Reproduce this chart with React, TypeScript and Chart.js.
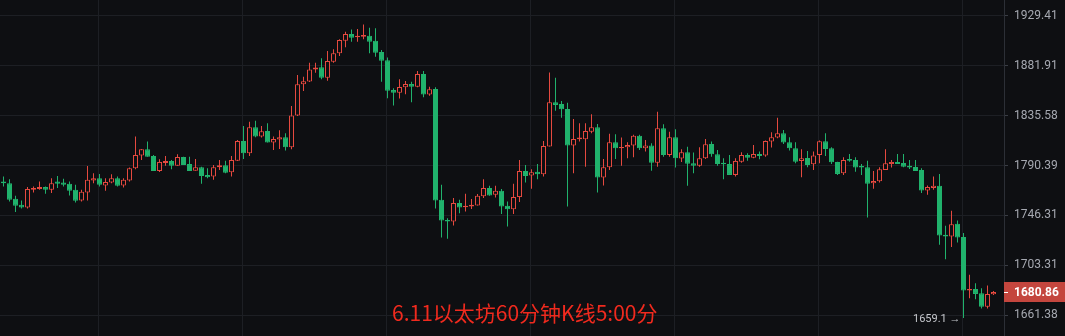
import React, { useEffect, useRef } from "react";
import { Chart, registerables } from "chart.js";

Chart.register(...registerables);

const openPrices = [
  1776.1, 1774.7, 1760.9, 1755.6, 1753.2, 1768.8, 1769.4, 1771.2, 1768.8, 1776.1,
  1775.2, 1774.1, 1768.8, 1759.4, 1766.4, 1777.0, 1779.1, 1772.6, 1775.2, 1779.1,
  1772.6, 1777.0, 1787.9, 1799.3, 1805.0, 1799.0, 1785.5, 1792.7, 1794.5, 1790.2,
  1798.1, 1791.7, 1785.8, 1788.8, 1782.0, 1780.5, 1788.8, 1790.6, 1784.4, 1794.7,
  1812.5, 1801.4, 1824.9, 1816.4, 1821.6, 1811.0, 1813.7, 1815.9, 1806.8, 1835.7,
  1864.5, 1867.1, 1878.4, 1880.5, 1870.6, 1885.5, 1893.5, 1905.5, 1911.8, 1908.7,
  1909.3, 1910.2, 1905.5, 1894.7, 1887.1, 1859.2, 1856.7, 1861.7, 1864.8, 1862.3,
  1874.0, 1854.9, 1860.0, 1760.0, 1742.4, 1741.0, 1757.1, 1753.5, 1754.1, 1755.0,
  1763.2, 1770.3, 1764.4, 1767.9, 1754.7, 1751.8, 1762.4, 1785.5, 1781.4, 1784.9,
  1782.6, 1807.4, 1847.8, 1846.2, 1841.6, 1808.3, 1814.1, 1814.1, 1820.9, 1824.9,
  1779.6, 1788.8, 1811.4, 1805.9, 1806.8, 1808.3, 1817.3, 1805.9, 1808.3, 1792.9,
  1824.0, 1799.9, 1815.9, 1796.7, 1802.3, 1792.4, 1790.2, 1796.9, 1809.8, 1800.5,
  1792.9, 1791.7, 1782.0, 1793.8, 1799.9, 1797.4, 1800.8, 1799.3, 1811.9, 1815.5,
  1819.5, 1811.4, 1805.9, 1794.5, 1797.2, 1791.5, 1799.9, 1812.3, 1805.9, 1793.5,
  1783.5, 1796.3, 1795.4, 1789.9, 1788.8, 1774.7, 1776.3, 1786.4, 1791.7, 1793.6,
  1792.7, 1790.2, 1789.1, 1786.4, 1768.2, 1770.3, 1772.3, 1729.5, 1728.1, 1739.0,
  1727.6, 1682.0, 1683.4, 1679.8, 1668.4, 1678.9,
];

const highPrices = [
  1780.5, 1778.2, 1763.5, 1759.4, 1771.2, 1771.7, 1776.1, 1771.7, 1779.1, 1781.1,
  1778.5, 1776.1, 1773.2, 1768.8, 1789.9, 1783.5, 1782.9, 1779.1, 1782.6, 1780.5,
  1779.1, 1788.5, 1816.4, 1805.3, 1811.9, 1799.9, 1796.0, 1799.0, 1795.4, 1800.5,
  1798.3, 1798.3, 1796.3, 1789.3, 1787.9, 1790.8, 1795.4, 1794.7, 1799.0, 1813.4,
  1826.1, 1830.0, 1830.9, 1826.1, 1828.5, 1816.4, 1822.2, 1819.5, 1844.4, 1873.1,
  1871.5, 1884.6, 1884.6, 1888.8, 1895.7, 1897.3, 1906.8, 1914.0, 1916.3, 1916.6,
  1921.1, 1917.8, 1917.3, 1896.6, 1889.7, 1860.8, 1869.2, 1867.6, 1866.9, 1876.8,
  1876.8, 1862.3, 1861.7, 1773.2, 1743.9, 1761.5, 1760.0, 1765.3, 1760.6, 1765.0,
  1778.2, 1772.3, 1772.3, 1769.4, 1758.5, 1774.1, 1795.4, 1790.8, 1787.0, 1791.7,
  1812.5, 1875.6, 1870.6, 1849.0, 1847.4, 1832.4, 1828.5, 1828.5, 1836.7, 1827.9,
  1796.3, 1818.9, 1818.6, 1815.5, 1811.4, 1818.0, 1818.0, 1813.4, 1810.5, 1839.1,
  1827.6, 1820.9, 1823.1, 1805.0, 1807.3, 1802.0, 1806.8, 1814.3, 1811.9, 1804.4,
  1796.9, 1799.9, 1796.9, 1802.3, 1801.4, 1808.9, 1802.9, 1812.8, 1820.4, 1833.6,
  1822.5, 1815.9, 1811.4, 1805.0, 1803.5, 1802.9, 1812.8, 1819.5, 1806.8, 1793.8,
  1797.8, 1800.8, 1797.8, 1791.7, 1794.7, 1785.5, 1788.8, 1805.0, 1795.4, 1800.8,
  1800.8, 1795.4, 1795.4, 1787.9, 1772.6, 1780.5, 1782.9, 1737.3, 1750.3, 1741.8,
  1731.0, 1695.3, 1688.2, 1684.0, 1686.2, 1681.7,
];

const lowPrices = [
  1771.7, 1758.5, 1749.4, 1752.3, 1752.3, 1766.4, 1768.8, 1765.3, 1765.9, 1770.3,
  1771.7, 1763.8, 1757.6, 1758.5, 1759.4, 1774.7, 1771.7, 1767.9, 1774.7, 1771.7,
  1770.8, 1776.1, 1787.0, 1795.4, 1798.3, 1785.5, 1784.7, 1790.2, 1787.0, 1790.2,
  1790.8, 1785.5, 1785.8, 1774.1, 1779.1, 1777.6, 1786.4, 1783.5, 1780.5, 1794.5,
  1796.3, 1799.0, 1815.9, 1815.5, 1811.0, 1804.4, 1805.3, 1803.8, 1805.0, 1835.1,
  1858.3, 1866.6, 1875.2, 1869.1, 1867.8, 1884.6, 1890.9, 1899.2, 1904.5, 1904.5,
  1906.8, 1893.5, 1890.3, 1866.9, 1851.5, 1844.9, 1851.2, 1855.2, 1847.8, 1861.7,
  1852.4, 1853.9, 1752.3, 1727.2, 1726.1, 1737.5, 1748.3, 1749.7, 1752.0, 1755.0,
  1761.5, 1763.5, 1762.0, 1747.6, 1736.7, 1747.6, 1758.0, 1775.2, 1769.7, 1778.2,
  1780.5, 1807.4, 1840.0, 1833.6, 1754.1, 1783.5, 1811.9, 1789.3, 1819.5, 1766.4,
  1772.6, 1786.4, 1796.3, 1790.2, 1796.9, 1797.8, 1804.4, 1802.9, 1785.8, 1789.3,
  1798.3, 1798.3, 1788.5, 1793.6, 1772.3, 1783.5, 1789.3, 1796.3, 1798.3, 1790.2,
  1778.2, 1782.0, 1780.5, 1792.9, 1794.7, 1796.9, 1796.0, 1798.3, 1806.5, 1815.0,
  1809.8, 1803.8, 1792.4, 1780.0, 1788.8, 1786.4, 1792.4, 1799.0, 1791.7, 1782.0,
  1782.0, 1793.8, 1784.9, 1782.0, 1744.4, 1769.7, 1775.2, 1786.4, 1788.5, 1791.7,
  1788.8, 1787.3, 1785.5, 1765.9, 1764.4, 1768.8, 1720.9, 1708.6, 1719.0, 1722.9,
  1659.1, 1675.5, 1674.7, 1667.1, 1667.1, 1678.3,
];

const closePrices = [
  1774.7, 1760.0, 1754.7, 1753.2, 1769.4, 1770.3, 1771.2, 1768.8, 1774.7, 1774.1,
  1773.2, 1767.9, 1759.1, 1767.0, 1777.6, 1779.1, 1773.2, 1775.6, 1779.1, 1772.3,
  1777.6, 1787.9, 1799.9, 1805.0, 1798.3, 1785.5, 1793.6, 1794.5, 1790.2, 1798.1,
  1790.8, 1785.5, 1788.8, 1781.1, 1780.0, 1788.8, 1790.6, 1784.0, 1795.4, 1812.5,
  1801.4, 1824.9, 1816.4, 1821.3, 1811.0, 1814.3, 1815.9, 1806.8, 1835.7, 1864.5,
  1867.3, 1878.4, 1880.2, 1870.6, 1886.2, 1893.5, 1906.1, 1911.8, 1908.3, 1910.2,
  1910.9, 1904.5, 1894.1, 1886.5, 1858.6, 1856.7, 1862.0, 1864.8, 1862.3, 1874.0,
  1854.9, 1859.9, 1759.4, 1741.8, 1741.0, 1757.1, 1753.2, 1754.7, 1755.6, 1763.5,
  1770.3, 1763.8, 1767.9, 1754.1, 1751.8, 1762.4, 1785.5, 1781.1, 1784.4, 1782.6,
  1808.0, 1847.8, 1845.3, 1841.3, 1808.3, 1814.3, 1815.5, 1821.6, 1824.9, 1779.6,
  1788.8, 1811.4, 1805.9, 1807.1, 1808.9, 1817.3, 1805.9, 1808.3, 1792.9, 1824.0,
  1799.9, 1815.9, 1796.9, 1802.3, 1792.0, 1790.2, 1796.9, 1809.6, 1800.5, 1791.7,
  1791.5, 1782.0, 1794.5, 1799.9, 1797.4, 1800.8, 1799.0, 1812.5, 1815.9, 1819.5,
  1811.0, 1805.9, 1793.8, 1796.9, 1790.8, 1799.3, 1812.3, 1805.3, 1793.3, 1782.9,
  1795.4, 1794.7, 1788.5, 1788.5, 1774.1, 1776.5, 1787.0, 1792.4, 1793.6, 1791.7,
  1789.3, 1788.5, 1785.5, 1768.2, 1771.2, 1772.3, 1728.9, 1728.1, 1738.7, 1727.2,
  1682.0, 1683.4, 1679.2, 1668.4, 1679.2, 1680.86,
];

const yTickValues = [1929.41, 1881.91, 1835.58, 1790.39, 1746.31, 1703.31, 1661.38];
const dayStartIdx = [16, 40, 64, 88, 112, 136, 160];
const titleText = "6.11以太坊60分钟K线5:00分";
const lowLabelText = "1659.1";

const BG = "#0e0f12";
const UP = "#e5493f";
const DOWN = "#20b26c";
const GRID = "#1d1f24";

export default function App() {
  const canvasRef = useRef<HTMLCanvasElement | null>(null);

  useEffect(() => {
    document.body.style.margin = "0";
    document.body.style.background = BG;
    const canvas = canvasRef.current;
    if (!canvas) return;

    const n = closePrices.length;
    const idx = closePrices.map((_, i) => i);
    const isUp = idx.map((i) => closePrices[i] >= openPrices[i]);
    const colors = idx.map((i) => (isUp[i] ? UP : DOWN));
    const lastPrice = closePrices[n - 1];
    let lowIdx = 0;
    lowPrices.forEach((v, i) => {
      if (v < lowPrices[lowIdx]) lowIdx = i;
    });

    const overlay = {
      id: "overlay",
      beforeDraw(chart: any) {
        const ctx = chart.ctx;
        ctx.save();
        ctx.fillStyle = BG;
        ctx.fillRect(0, 0, chart.width, chart.height);
        ctx.restore();
      },
      afterDraw(chart: any) {
        const ctx = chart.ctx;
        const xs = chart.scales.x;
        const ys = chart.scales.y;
        ctx.save();
        ctx.font = '21px "Noto Sans CJK SC", sans-serif';
        ctx.fillStyle = "#f02a1e";
        ctx.textBaseline = "middle";
        ctx.textAlign = "left";
        ctx.fillText(titleText, 392, 313);

        const lx = xs.getPixelForValue(lowIdx);
        const ly = ys.getPixelForValue(lowPrices[lowIdx]);
        ctx.font = '11px Roboto, sans-serif';
        ctx.fillStyle = "#c5c7cc";
        ctx.textAlign = "right";
        ctx.fillText(lowLabelText + " →", lx - 3, ly + 1);

        const py = ys.getPixelForValue(lastPrice);
        const left = chart.chartArea.right;
        ctx.fillStyle = "#c4463e";
        ctx.fillRect(left, Math.round(py) - 10, chart.width - left, 20);
        ctx.fillStyle = "#ffffff";
        ctx.fillRect(left, Math.round(py), 4, 1);
        ctx.font = 'bold 12px Roboto, sans-serif';
        ctx.textAlign = "left";
        ctx.fillText(lastPrice.toFixed(2), left + 10, Math.round(py) + 0.5);
        ctx.restore();
      },
    };

    const chart = new Chart(canvas, {
      type: "bar",
      data: {
        datasets: [
          {
            label: "body",
            data: idx.map((i) => ({ x: i, y: [openPrices[i], closePrices[i]] })) as any,
            backgroundColor: idx.map((i) => (isUp[i] ? BG : DOWN)),
            borderColor: colors,
            borderWidth: 1,
            borderSkipped: false,
            barThickness: 5,
            grouped: false,
            inflateAmount: 0,
            order: 0,
          } as any,
          {
            label: "wick",
            data: idx.map((i) => ({ x: i, y: [lowPrices[i], highPrices[i]] })) as any,
            backgroundColor: colors,
            borderWidth: 0,
            barThickness: 1,
            grouped: false,
            inflateAmount: 0,
            order: 1,
          } as any,
        ],
      },
      options: {
        responsive: false,
        maintainAspectRatio: false,
        devicePixelRatio: 1,
        animation: false,
        events: [],
        layout: { padding: 0, autoPadding: false },
        plugins: {
          legend: { display: false },
          tooltip: { enabled: false },
        },
        scales: {
          x: {
            type: "linear",
            offset: false,
            min: -3.5 / 6,
            max: 166.75,
            bounds: "data",
            grid: { color: GRID, drawTicks: false, lineWidth: 1, offset: false },
            border: { display: false },
            ticks: { display: false },
            afterBuildTicks: (scale: any) => {
              scale.ticks = dayStartIdx.map((v) => ({ value: v - 1 / 6 }));
            },
            afterFit: (scale: any) => {
              scale.height = 0;
              scale.paddingLeft = 0;
              scale.paddingRight = 0;
            },
          },
          y: {
            type: "logarithmic",
            position: "right",
            offset: false,
            min: 1644.27,
            max: 1944.64,
            bounds: "data",
            grid: { color: GRID, tickLength: 4, tickColor: "#3a3d44", lineWidth: 1, offset: false },
            border: { display: true, color: "#2c2f36" },
            ticks: {
              color: "#a6a9b1",
              font: { family: "Roboto", size: 12 },
              padding: 6,
              autoSkip: false,
              callback: (v: any) => Number(v).toFixed(2),
            },
            afterBuildTicks: (scale: any) => {
              scale.ticks = yTickValues.map((v) => ({ value: v }));
            },
            afterFit: (scale: any) => {
              scale.width = 61;
              scale.paddingTop = 0;
              scale.paddingBottom = 0;
            },
          } as any,
        },
      } as any,
      plugins: [overlay],
    });

    return () => chart.destroy();
  }, []);

  return (
    <div style={{ width: 1065, height: 336, background: BG }}>
      <canvas ref={canvasRef} width={1065} height={336} style={{ display: "block", width: 1065, height: 336 }} />
    </div>
  );
}
